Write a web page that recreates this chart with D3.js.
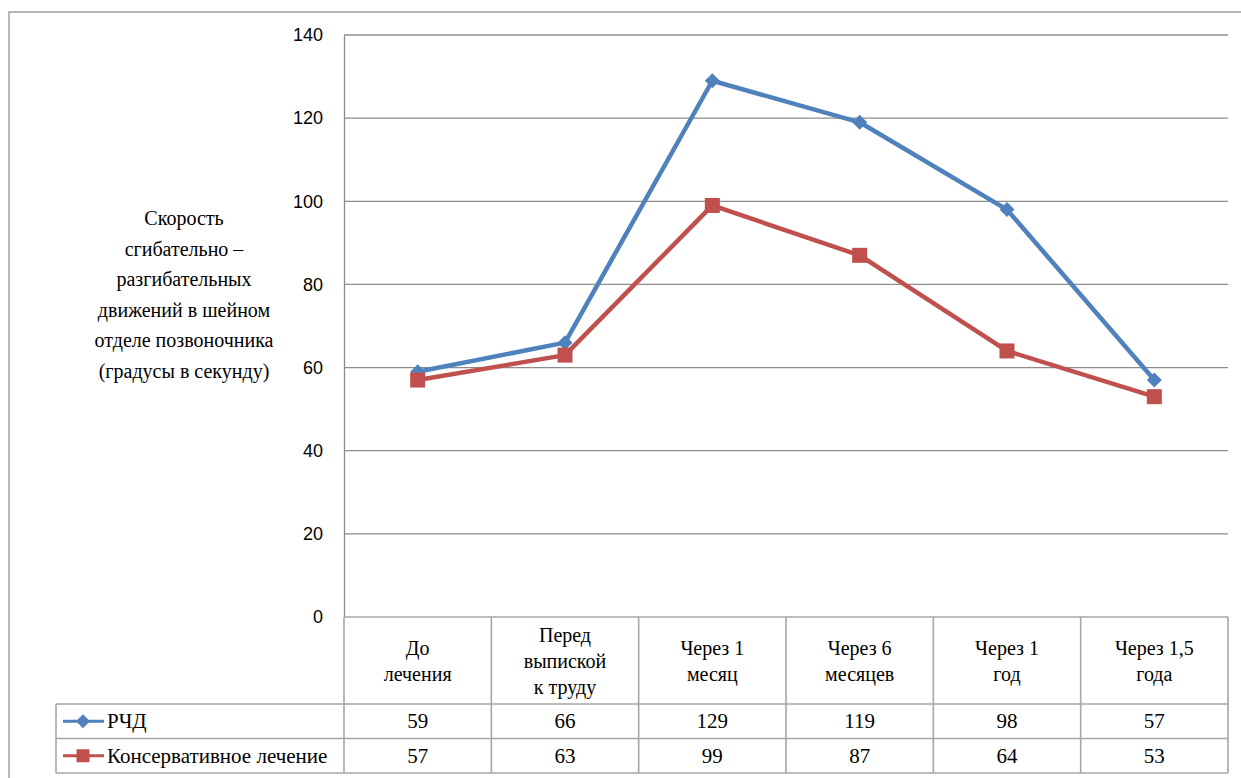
<!DOCTYPE html>
<html>
<head>
<meta charset="utf-8">
<script src="https://cdn.jsdelivr.net/npm/d3@7"></script>
<style>
  body { margin: 0; background: #fff; }
  svg { display: block; }
</style>
</head>
<body>
<svg id="chart" width="1241" height="778"></svg>
<script>
// categories (lines of each header cell)
const categories = [
  ["До", "лечения"],
  ["Перед", "выпиской", "к труду"],
  ["Через 1", "месяц"],
  ["Через 6", "месяцев"],
  ["Через 1", "год"],
  ["Через 1,5", "года"]
];
const seriesNames = ["РЧД", "Консервативное лечение"];
const rchdValues = [59, 66, 129, 119, 98, 57];
const consValues = [57, 63, 99, 87, 64, 53];
const yTicks = [0, 20, 40, 60, 80, 100, 120, 140];
const yTitle = ["Скорость", "сгибательно –", "разгибательных", "движений в шейном", "отделе позвоночника", "(градусы в секунду)"];

const series = [
  { name: seriesNames[0], values: rchdValues, color: "#4F81BD", marker: "diamond" },
  { name: seriesNames[1], values: consValues, color: "#C0504D", marker: "square" }
];

const svg = d3.select("#chart");
const serif = "Liberation Serif";
const sans = "Liberation Sans";
const gridColor = "#8c8c8c";
const tableColor = "#a6a6a6";

// outer chart border
svg.append("rect")
   .attr("x", 9).attr("y", 12)
   .attr("width", 1240).attr("height", 780)
   .attr("fill", "none")
   .attr("stroke", "#a0a0a0")
   .attr("stroke-width", 1.5);

// plot area
const plot = { left: 344, right: 1228, top: 35, bottom: 617 };

const x = d3.scaleBand()
            .domain(d3.range(categories.length))
            .range([plot.left, plot.right]);

const y = d3.scaleLinear()
            .domain([0, 140])
            .range([plot.bottom, plot.top]);

// gridlines
svg.append("g")
   .selectAll("line")
   .data(yTicks.filter(d => d > 0))
   .enter().append("line")
     .attr("x1", plot.left).attr("x2", plot.right)
     .attr("y1", d => y(d)).attr("y2", d => y(d))
     .attr("stroke", gridColor)
     .attr("stroke-width", 1.3);

// y axis
const yAxis = svg.append("g")
   .attr("transform", `translate(${plot.left},0)`)
   .call(d3.axisLeft(y).tickValues(yTicks).tickSize(0).tickPadding(21))
   .attr("font-family", sans)
   .attr("font-size", 18);
yAxis.select(".domain").attr("stroke", gridColor).attr("stroke-width", 1.3);
yAxis.selectAll("text").attr("fill", "#000");

// y axis title
svg.append("text")
   .attr("font-family", serif)
   .attr("font-size", 20)
   .attr("text-anchor", "middle")
   .selectAll("tspan")
   .data(yTitle)
   .enter().append("tspan")
     .attr("x", 184)
     .attr("y", (d, i) => 225 + i * 30.5)
     .text(d => d);

// data table
const rowH = 34.5;
const headerBottom = 704;
const tableLeft = 56;
const table = svg.append("g").attr("stroke", tableColor).attr("stroke-width", 1.6);

// horizontal table lines
table.append("line")
     .attr("x1", plot.left).attr("x2", plot.right)
     .attr("y1", plot.bottom).attr("y2", plot.bottom);
[0, 1, 2].forEach(i => {
  table.append("line")
       .attr("x1", tableLeft).attr("x2", plot.right)
       .attr("y1", headerBottom + i * rowH).attr("y2", headerBottom + i * rowH);
});
// vertical table lines
categories.forEach((c, i) => {
  table.append("line")
       .attr("x1", x(i)).attr("x2", x(i))
       .attr("y1", plot.bottom).attr("y2", headerBottom + 2 * rowH);
});
table.append("line")
     .attr("x1", plot.right).attr("x2", plot.right)
     .attr("y1", plot.bottom).attr("y2", headerBottom + 2 * rowH);
table.append("line")
     .attr("x1", tableLeft).attr("x2", tableLeft)
     .attr("y1", headerBottom).attr("y2", headerBottom + 2 * rowH);

// category headers
const headerMid = (plot.bottom + headerBottom) / 2;
categories.forEach((lines, i) => {
  const t = svg.append("text")
     .attr("font-family", serif)
     .attr("font-size", 20)
     .attr("text-anchor", "middle");
  lines.forEach((ln, j) => {
    t.append("tspan")
     .attr("x", x(i) + x.bandwidth() / 2)
     .attr("y", headerMid + 7 + (j - (lines.length - 1) / 2) * 26)
     .text(ln);
  });
});

// marker drawing
function drawMarker(g, type, cx, cy, color, size) {
  if (type === "diamond") {
    const s = size / 2;
    g.append("path")
     .attr("d", `M${cx},${cy - s}L${cx + s},${cy}L${cx},${cy + s}L${cx - s},${cy}Z`)
     .attr("fill", color);
  } else {
    g.append("rect")
     .attr("x", cx - size / 2).attr("y", cy - size / 2)
     .attr("width", size).attr("height", size)
     .attr("fill", color);
  }
}

// table rows: legend keys and values
series.forEach((s, si) => {
  const rowMid = headerBottom + si * rowH + rowH / 2;
  const key = svg.append("g");
  key.append("line")
     .attr("x1", 63).attr("x2", 104)
     .attr("y1", rowMid).attr("y2", rowMid)
     .attr("stroke", s.color).attr("stroke-width", 3);
  drawMarker(key, s.marker, 83, rowMid, s.color, s.marker === "diamond" ? 14 : 13);
  svg.append("text")
     .attr("font-family", serif)
     .attr("font-size", 21)
     .attr("x", 107).attr("y", rowMid + 7)
     .text(s.name);
  svg.append("g")
     .attr("font-family", serif)
     .attr("font-size", 21)
     .selectAll("text")
     .data(s.values)
     .enter().append("text")
       .attr("x", (d, i) => x(i) + x.bandwidth() / 2)
       .attr("y", rowMid + 7)
       .attr("text-anchor", "middle")
       .text(d => d);
});

// lines and markers
const line = d3.line()
               .x((d, i) => x(i) + x.bandwidth() / 2)
               .y(d => y(d));

series.forEach(s => {
  svg.append("path")
     .datum(s.values)
     .attr("d", line)
     .attr("fill", "none")
     .attr("stroke", s.color)
     .attr("stroke-width", 4.5)
     .attr("stroke-linejoin", "round");
});
series.forEach(s => {
  const g = svg.append("g");
  s.values.forEach((v, i) => {
    drawMarker(g, s.marker, x(i) + x.bandwidth() / 2, y(v), s.color, 15);
  });
});
</script>
</body>
</html>
